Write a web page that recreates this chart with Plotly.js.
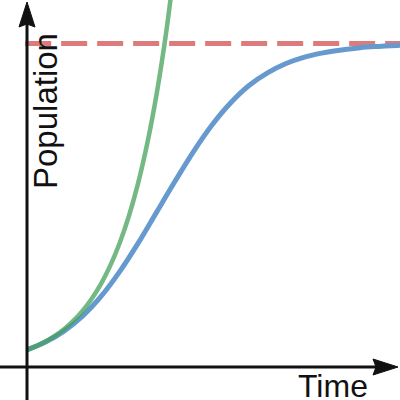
<!DOCTYPE html>
<html>
<head>
<meta charset="utf-8">
<script src="https://cdn.plot.ly/plotly-3.0.1.min.js"></script>
<style>html,body{margin:0;padding:0;background:#fff;}#chart{width:400px;height:400px;}</style>
</head>
<body>
<div id="chart"></div>
<script>
// Data (time units 0..10, population with carrying capacity 100)
const logisticTime = [0, 0.5, 1, 1.5, 2, 2.5, 3, 3.5, 4, 4.5, 5, 5.5, 6, 6.5, 7, 7.5, 8, 8.5, 9, 9.5, 10, 10.1];
const logisticPop  = [5.3, 7.7, 11.1, 15.7, 21.8, 29.4, 38.2, 47.8, 57.4, 66.6, 74.8, 81.6, 87.0, 90.9, 93.8, 95.8, 97.1, 98.0, 98.7, 99.1, 99.4, 99.45];
const expTime = [0, 0.25, 0.5, 0.75, 1, 1.25, 1.5, 1.75, 2, 2.25, 2.5, 2.75, 3, 3.25, 3.5, 3.75, 4];
const expPop  = [5.3, 6.46, 7.87, 9.59, 11.68, 14.23, 17.33, 21.12, 25.73, 31.35, 38.2, 46.53, 56.69, 69.07, 84.16, 102.5, 124.9];
const capTime = [-0.05, 10.1];
const capPop  = [100, 100];
const xLabel = "Time";
const yLabel = "Population";

const P = v => v / 400;           // pixel -> paper x
const Q = v => 1 - v / 400;       // pixel -> paper y
const axisColor = "#111111";

const traces = [
  {x: capTime, y: capPop, mode: "lines", line: {color: "rgba(214,100,100,0.85)", width: 5, dash: "26px,10px"}, hoverinfo: "skip"},
  {x: logisticTime, y: logisticPop, mode: "lines", line: {color: "rgb(102,154,206)", width: 5, shape: "spline"}, hoverinfo: "skip"},
  {x: expTime, y: expPop, mode: "lines", line: {color: "rgba(70,160,90,0.75)", width: 4.5, shape: "spline"}, hoverinfo: "skip"}
];

const shapes = [
  {type: "line", xref: "paper", yref: "paper", x0: P(0), x1: P(380), y0: Q(367), y1: Q(367), line: {color: axisColor, width: 3}},
  {type: "line", xref: "paper", yref: "paper", x0: P(27), x1: P(27), y0: Q(400), y1: Q(20), line: {color: axisColor, width: 3}},
  {type: "path", xref: "paper", yref: "paper",
   path: `M ${P(398)} ${Q(367)} L ${P(373)} ${Q(359)} L ${P(376)} ${Q(367)} L ${P(373)} ${Q(375)} Z`,
   fillcolor: axisColor, line: {color: axisColor, width: 1}},
  {type: "path", xref: "paper", yref: "paper",
   path: `M ${P(27)} ${Q(2)} L ${P(19)} ${Q(27)} L ${P(27)} ${Q(24)} L ${P(35)} ${Q(27)} Z`,
   fillcolor: axisColor, line: {color: axisColor, width: 1}}
];

const annotations = [
  {text: yLabel, xref: "paper", yref: "paper", x: P(45), y: Q(111), xanchor: "center", yanchor: "middle",
   textangle: -90, showarrow: false, font: {family: "Liberation Sans, Arial, sans-serif", size: 33, color: "#111"}},
  {text: xLabel, xref: "paper", yref: "paper", x: P(333), y: Q(386), xanchor: "center", yanchor: "middle",
   showarrow: false, font: {family: "Liberation Sans, Arial, sans-serif", size: 32, color: "#111"}}
];

const layout = {
  width: 400, height: 400,
  margin: {l: 0, r: 0, t: 0, b: 0, pad: 0},
  paper_bgcolor: "#ffffff", plot_bgcolor: "#ffffff",
  showlegend: false,
  xaxis: {range: [-0.7297, 10.081], visible: false, fixedrange: true},
  yaxis: {range: [-10.2, 113.45], visible: false, fixedrange: true},
  shapes: shapes,
  annotations: annotations
};

Plotly.newPlot("chart", traces, layout, {staticPlot: true, displayModeBar: false});
</script>
</body>
</html>
